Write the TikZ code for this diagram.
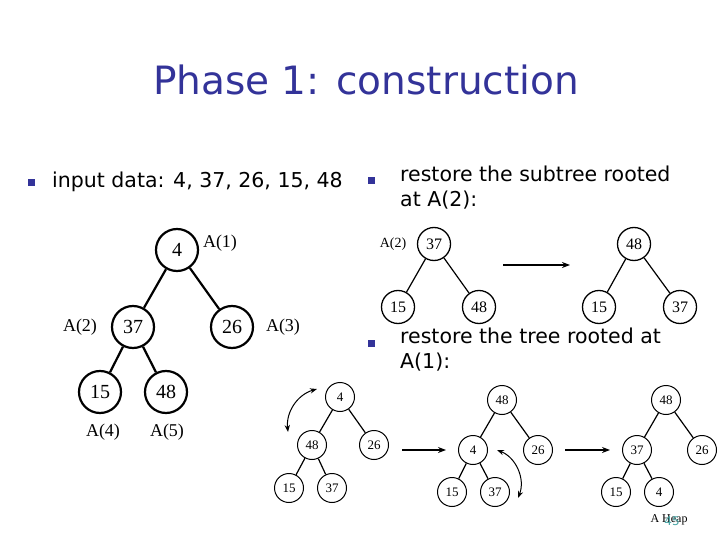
\documentclass[tikz,border=0pt]{standalone}
\usepackage{fontspec}
\setmainfont{Liberation Serif}
\newfontfamily\slide{DejaVu Sans}
\usetikzlibrary{arrows.meta}
\definecolor{titleblue}{HTML}{333399}
\begin{document}
\begin{tikzpicture}[x=1pt,y=-1pt,
  big/.style={circle,draw,line width=2.2pt,minimum size=42pt,inner sep=0pt,font=\fontsize{20}{20}\selectfont},
  sm/.style={circle,draw,line width=1.3pt,minimum size=33pt,inner sep=0pt,font=\fontsize{16}{16}\selectfont},
  tn/.style={circle,draw,line width=1pt,minimum size=29pt,inner sep=0pt,font=\fontsize{13}{13}\selectfont},
  lbl/.style={font=\fontsize{18}{18}\selectfont,inner sep=0pt},
  slbl/.style={font=\fontsize{14}{14}\selectfont,inner sep=0pt},
  btxt/.style={font=\slide\fontsize{20.5}{25}\selectfont,inner sep=0pt,align=left},
  bul/.style={fill=titleblue,minimum size=7pt,inner sep=0pt},
  edge/.style={line width=1.2pt},
  bedge/.style={line width=2.2pt},
  arr/.style={line width=1.3pt,-{Stealth[length=8pt]}},
  darr/.style={line width=1pt,{Stealth[length=7pt]}-{Stealth[length=7pt]}}]
\useasboundingbox (0,0) rectangle (720,540);
\node[font=\slide\fontsize{39}{39}\selectfont,text=titleblue] (title) at (366,80) {Phase 1: construction};
\node[bul] (b1) at (31,183) {};
\node[btxt,anchor=west] (t1) at (52,182) {input data: 4, 37, 26, 15, 48};
\node[bul] (b2) at (371,181) {};
\node[btxt,anchor=north west] (t2) at (400,166) {restore the subtree rooted\\at A(2):};
\node[bul] (b3) at (371,343) {};
\node[btxt,anchor=north west] (t3) at (400,328) {restore the tree rooted at\\A(1):};
% big tree
\node[big] (a1) at (177,250) {4};
\node[big] (a2) at (133,327) {37};
\node[big] (a3) at (232,327) {26};
\node[big] (a4) at (100,392) {15};
\node[big] (a5) at (166,392) {48};
\draw[bedge] (a1)--(a2) (a1)--(a3) (a2)--(a4) (a2)--(a5);
\node[lbl] (l1) at (220,243) {A(1)};
\node[lbl] (l2) at (80,327) {A(2)};
\node[lbl] (l3) at (283,327) {A(3)};
\node[lbl] (l4) at (103,432) {A(4)};
\node[lbl] (l5) at (167,432) {A(5)};
% subtree restore
\node[slbl] (s2) at (393,244) {A(2)};
\node[sm] (p1) at (434,244) {37};
\node[sm] (p2) at (398,307) {15};
\node[sm] (p3) at (479,307) {48};
\draw[edge] (p1)--(p2) (p1)--(p3);
\coordinate (ar1s) at (503,265); \coordinate (ar1e) at (570,265);
\draw[arr] (ar1s)--(ar1e);
\node[sm] (q1) at (634,244) {48};
\node[sm] (q2) at (599,307) {15};
\node[sm] (q3) at (680,307) {37};
\draw[edge] (q1)--(q2) (q1)--(q3);
% tree restore
\node[tn] (m1) at (340,397) {4};
\node[tn] (m2) at (312,445) {48};
\node[tn] (m3) at (374,445) {26};
\node[tn] (m4) at (289,488) {15};
\node[tn] (m5) at (332,488) {37};
\draw[edge] (m1)--(m2) (m1)--(m3) (m2)--(m4) (m2)--(m5);
\coordinate (c1a) at (317,389); \coordinate (c1b) at (288,432);
\draw[darr] (c1a) to[bend right=40] (c1b);
\coordinate (ar2s) at (402,450); \coordinate (ar2e) at (446,450);
\draw[arr] (ar2s)--(ar2e);
\node[tn] (n1) at (502,400) {48};
\node[tn] (n2) at (473,450) {4};
\node[tn] (n3) at (538,450) {26};
\node[tn] (n4) at (452,492) {15};
\node[tn] (n5) at (495,492) {37};
\draw[edge] (n1)--(n2) (n1)--(n3) (n2)--(n4) (n2)--(n5);
\coordinate (c2a) at (497,450); \coordinate (c2b) at (518,498);
\draw[darr] (c2a) to[bend left=45] (c2b);
\coordinate (ar3s) at (565,450); \coordinate (ar3e) at (610,450);
\draw[arr] (ar3s)--(ar3e);
\node[tn] (r1) at (666,400) {48};
\node[tn] (r2) at (637,450) {37};
\node[tn] (r3) at (702,450) {26};
\node[tn] (r4) at (616,492) {15};
\node[tn] (r5) at (659,492) {4};
\draw[edge] (r1)--(r2) (r1)--(r3) (r2)--(r4) (r2)--(r5);
\node[font=\fontsize{12}{12}\selectfont,inner sep=0pt] (heap) at (669,520) {A Heap};
\node[font=\slide\fontsize{12}{12}\selectfont,text=teal!70,inner sep=0pt] (pg) at (672,521) {45};
\end{tikzpicture}
\end{document}
